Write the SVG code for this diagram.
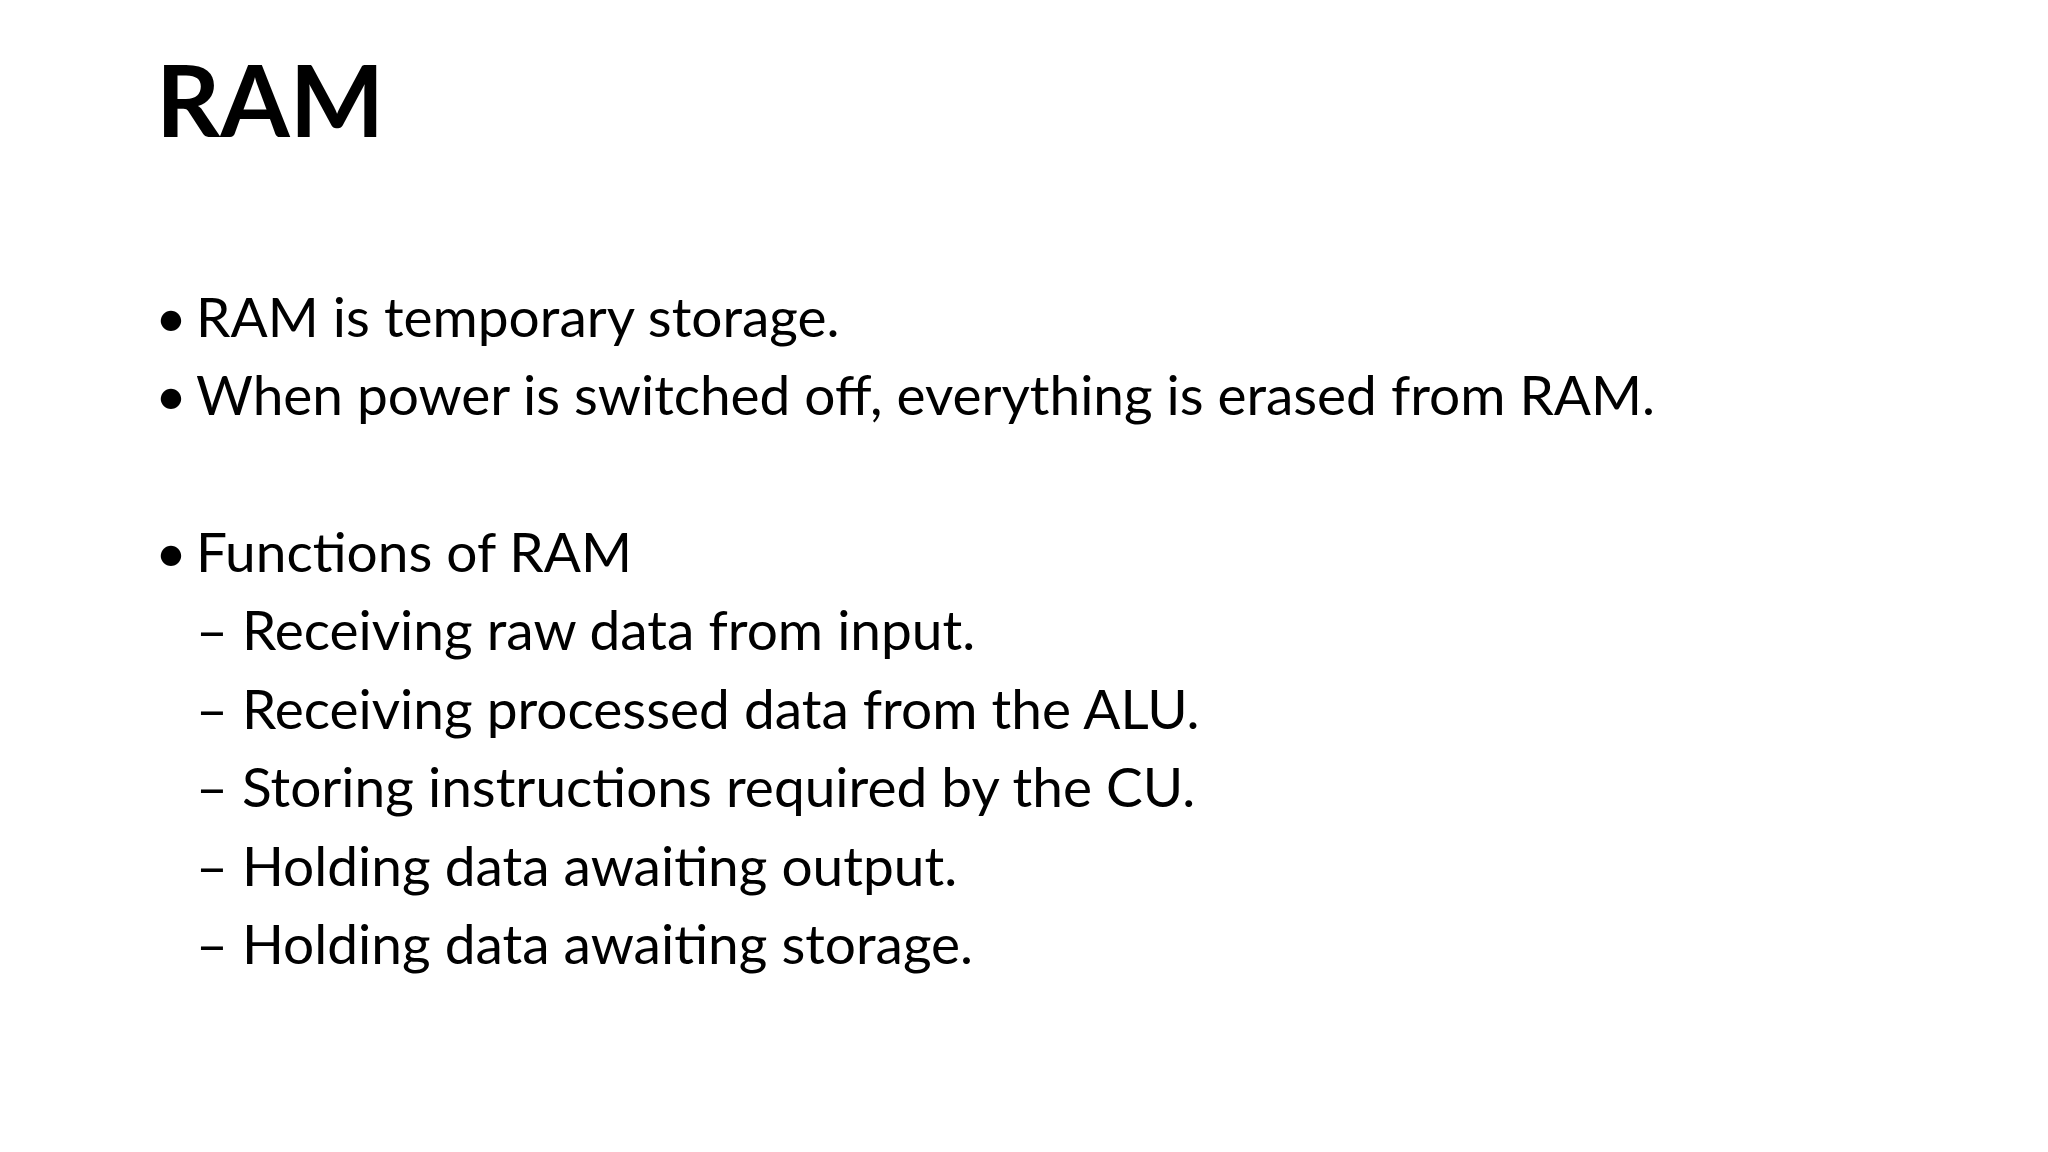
<svg xmlns="http://www.w3.org/2000/svg" width="2048" height="1152" viewBox="0 0 2048 1152">
<style>
text{font-family:"Lato","Noto Sans",sans-serif;fill:#000}
.t{font-size:100px;font-weight:bold}
.b{font-size:55px}
</style>
<rect width="2048" height="1152" fill="#fff"/>
<text class="t" x="156" y="137">RAM</text>
<g class="b">
<text x="155" y="337">•</text><text x="196" y="337">RAM is temporary storage.</text>
<text x="155" y="415">•</text><text x="196" y="415" textLength="1459">When power is switched off, everything is erased from RAM.</text>
<text x="155" y="572">•</text><text x="196" y="572">Functions of RAM</text>
<text x="196" y="650">– Receiving raw data from input.</text>
<text x="196" y="729">– Receiving processed data from the ALU.</text>
<text x="196" y="807">– Storing instructions required by the CU.</text>
<text x="196" y="886">– Holding data awaiting output.</text>
<text x="196" y="964">– Holding data awaiting storage.</text>
</g>
</svg>
